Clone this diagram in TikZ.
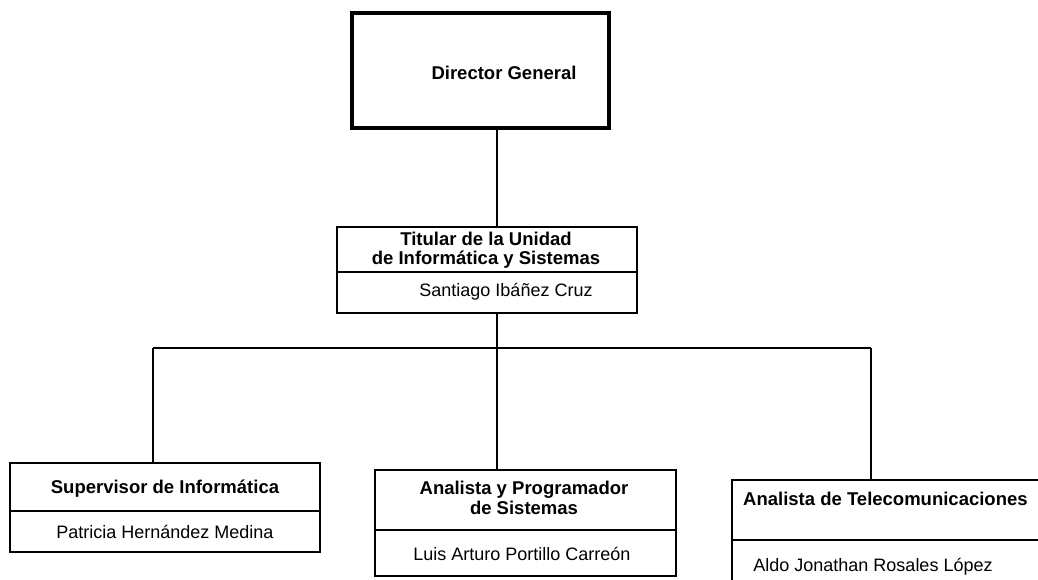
\documentclass[tikz,border=0pt]{standalone}
\usepackage{fontspec}
\setmainfont{Liberation Sans}
\begin{document}
\begin{tikzpicture}[x=1pt,y=-1pt,
  box/.style={draw, line width=1.3pt, inner sep=0pt, outer sep=0pt},
  ttl/.style={font=\fontsize{18.5}{19.5}\selectfont\bfseries, align=center, inner sep=0pt},
  nm/.style={font=\fontsize{18}{19}\selectfont, inner sep=0pt},
  conn/.style={line width=1.3pt},
  divl/.style={line width=1.3pt}]
\path[use as bounding box] (0,0) rectangle (1038,579);
\begin{scope}
\clip (0,0) rectangle (1038,579);
% boxes
\node[box, line width=4pt, minimum width=257pt, minimum height=115pt] (dir) at (480.5,70.5) {};
\node[ttl] (dirT) at (504,73) {Director General};

\node[box, minimum width=300pt, minimum height=86pt] (tit) at (487,270) {};
\node[ttl] (titT) at (486,250) {Titular de la Unidad\\de Informática y Sistemas};
\node[nm] (titN) at (506,292) {Santiago Ibáñez Cruz};
\draw[divl] (tit.west |- 0,272) -- (tit.east |- 0,272);

\node[box, minimum width=310pt, minimum height=89pt] (sup) at (165,507.5) {};
\node[ttl] (supT) at (165,489) {Supervisor de Informática};
\node[nm] (supN) at (165,532) {Patricia Hernández Medina};
\draw[divl] (sup.west |- 0,511) -- (sup.east |- 0,511);

\node[box, minimum width=301pt, minimum height=106pt] (prog) at (525.5,523) {};
\node[ttl] (progT) at (524,498) {Analista y Programador\\de Sistemas};
\node[nm] (progN) at (522,554) {Luis Arturo Portillo Carreón};
\draw[divl] (prog.west |- 0,530) -- (prog.east |- 0,530);

\node[box, minimum width=316pt, minimum height=120pt] (tel) at (890,540) {};
\node[ttl, anchor=west] (telT) at (743,499) {Analista de Telecomunicaciones};
\node[nm] (telN) at (873,567) {Aldo Jonathan Rosales López};
\draw[divl] (tel.west |- 0,540) -- (tel.east |- 0,540);

% connectors
\coordinate (bus) at (497,348);
\coordinate (busL) at (153,348);
\coordinate (busR) at (871,348);
\draw[conn] (dir.south -| bus) -- (tit.north -| bus);
\draw[conn] (tit.south -| bus) -- (prog.north -| bus);
\draw[conn] (busL) -- (busR);
\draw[conn] (busL) -- (sup.north -| busL);
\draw[conn] (busR) -- (tel.north -| busR);
\end{scope}
\end{tikzpicture}
\end{document}
